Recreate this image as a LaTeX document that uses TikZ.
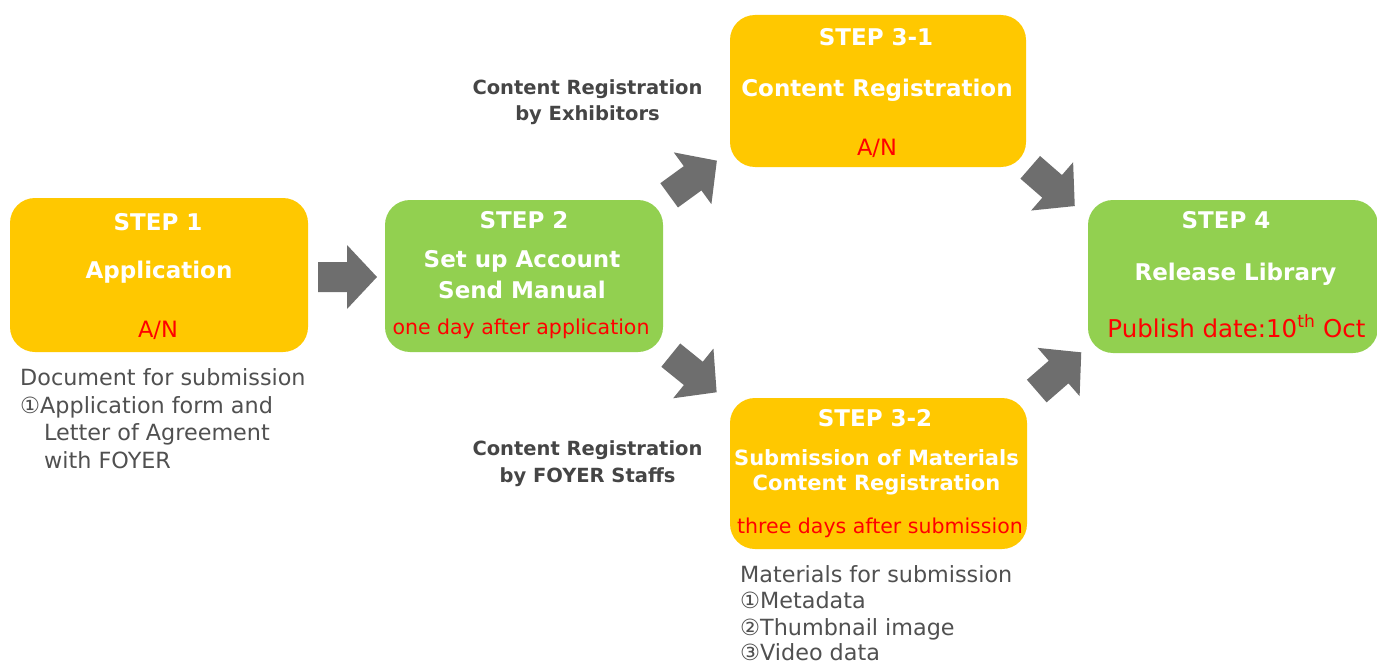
\documentclass[tikz,border=0pt]{standalone}
\usepackage{fontspec}
\setmainfont{DejaVu Sans}
\definecolor{stepgold}{HTML}{FFC800}
\definecolor{stepgreen}{HTML}{92D050}
\definecolor{arrowgray}{HTML}{6E6E6E}
\definecolor{notegray}{HTML}{505050}
\definecolor{labelgray}{HTML}{454545}
\definecolor{datered}{HTML}{FF0000}
\tikzset{
  stepbox/.style={rounded corners=25pt, inner sep=0pt, draw=none},
  steptext/.style={anchor=base, text=white, font=\bfseries\fontsize{23}{27}\selectfont},
  subtext/.style={anchor=base, text=white, font=\bfseries\fontsize{21}{25}\selectfont},
  redtext/.style={anchor=base, text=datered, font=\fontsize{20.5}{24}\selectfont},
  routelabel/.style={anchor=base, text=labelgray, font=\bfseries\fontsize{19.5}{23}\selectfont},
  notetext/.style={anchor=base west, inner xsep=0pt, text=notegray, font=\fontsize{22.3}{26}\selectfont}
}
\newcommand{\blockarrow}[2]{%
  \begin{scope}[shift={#1},rotate=#2]
    \fill[arrowgray] (-29.5,-15)--(-0.5,-15)--(-0.5,-32)--(29.5,0)--(-0.5,32)--(-0.5,15)--(-29.5,15)--cycle;
  \end{scope}}
\begin{document}
\begin{tikzpicture}[x=1pt,y=-1pt]
\useasboundingbox (0,0) rectangle (1377,661);
% boxes
\node[stepbox, fill=stepgold, minimum width=298pt, minimum height=154pt] (s1) at (159,275) {};
\node[stepbox, fill=stepgreen, minimum width=278pt, minimum height=152pt] (s2) at (524,276) {};
\node[stepbox, fill=stepgold, minimum width=296pt, minimum height=152pt] (s31) at (878,91) {};
\node[stepbox, fill=stepgold, minimum width=297pt, minimum height=151pt] (s32) at (878.5,473.5) {};
\node[stepbox, fill=stepgreen, minimum width=290pt, minimum height=153pt] (s4) at (1233,276.5) {};
% step 1
\node[steptext] (s1step) at (158,230) {STEP 1};
\node[steptext] (s1title) at (159,278) {Application};
\node[redtext, font=\fontsize{22.5}{26}\selectfont] (s1date) at (158,337) {A/N};
% step 2
\node[steptext] (s2step) at (524,228) {STEP 2};
\node[steptext] (s2title) at (522,267) {Set up Account};
\node[steptext] (s2sub) at (522,298) {Send Manual};
\node[redtext] (s2date) at (521,334) {one day after application};
% step 3-1
\node[steptext] (s31step) at (876,46) {STEP 3-1};
\node[steptext] (s31title) at (877,96) {Content Registration};
\node[redtext, font=\fontsize{22.5}{26}\selectfont] (s31date) at (877,155) {A/N};
% step 3-2
\node[steptext] (s32step) at (875,426) {STEP 3-2};
\node[subtext] (s32title) at (876.5,465) {Submission of Materials};
\node[subtext] (s32sub) at (876.5,490) {Content Registration};
\node[redtext] (s32date) at (880,533) {three days after submission};
% step 4
\node[steptext] (s4step) at (1226,228) {STEP 4};
\node[steptext] (s4title) at (1235.5,280) {Release Library};
\node[redtext, font=\fontsize{24.5}{28}\selectfont] (s4date) at (1236.5,337) {Publish date:10\textsuperscript{th} Oct};
% route labels
\node[routelabel] (exhibA) at (587.5,95) {Content Registration};
\node[routelabel] (exhibB) at (587.5,121) {by Exhibitors};
\node[routelabel] (staffA) at (587.5,455) {Content Registration};
\node[routelabel] (staffB) at (587.5,482) {by FOYER Staffs};
% notes
\node[notetext] (docA) at (20,385) {Document for submission};
\node[notetext] (docB) at (20,413) {①Application form and};
\node[notetext] (docC) at (44,440.5) {Letter of Agreement};
\node[notetext] (docD) at (44,468) {with FOYER};
\node[notetext] (matA) at (740,582) {Materials for submission};
\node[notetext] (matB) at (740,608) {①Metadata};
\node[notetext] (matC) at (740,635) {②Thumbnail image};
\node[notetext] (matD) at (740,660) {③Video data};
% arrows
\blockarrow{(347.5,277)}{0}
\blockarrow{(693,178)}{36}
\blockarrow{(693.7,373.7)}{-39}
\blockarrow{(1052.5,186.7)}{-41}
\blockarrow{(1059,371.7)}{41}
\end{tikzpicture}
\end{document}
